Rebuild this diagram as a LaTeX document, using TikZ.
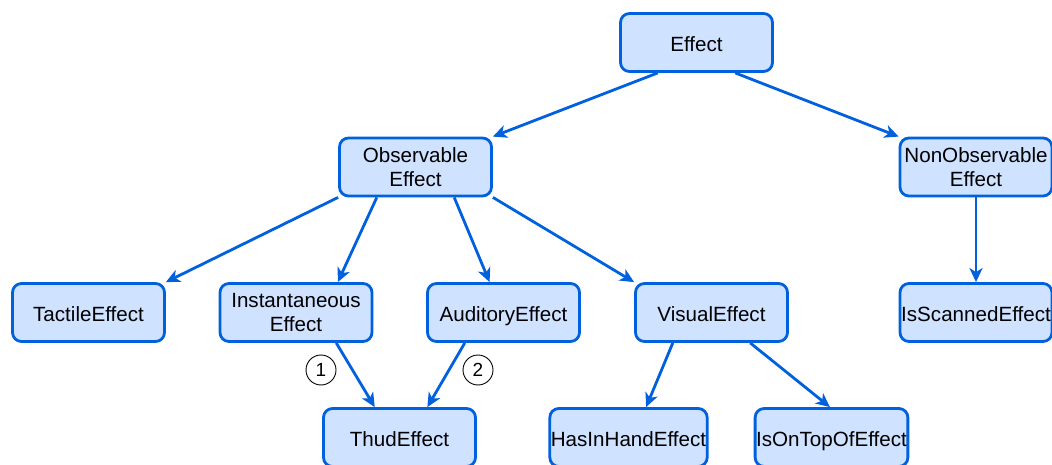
\documentclass[tikz,border=0pt]{standalone}
\usepackage{fontspec}
\setmainfont{Liberation Sans}
\usetikzlibrary{arrows.meta,calc}
\definecolor{boxline}{HTML}{0060DD}
\definecolor{boxfill}{HTML}{CFE2FF}
\tikzset{
  box/.style={draw=boxline, fill=boxfill, line width=2.8pt, rounded corners=9pt,
    minimum width=152pt, minimum height=58pt, inner sep=1pt, align=center,
    font=\fontsize{20.6}{24}\selectfont, text=black,
    execute at begin node={\rule{0pt}{18pt}}},
  single/.style={box, text depth=0pt},
  link/.style={draw=boxline, line width=2.8pt, -{Stealth[length=14pt,width=13pt,inset=4pt]}},
  num/.style={draw=black, fill=white, circle, line width=0.9pt, minimum size=30pt, inner sep=0pt,
    font=\fontsize{19}{21}\selectfont}
}
\begin{document}
\begin{tikzpicture}[x=1pt,y=-1pt]
\useasboundingbox (0,0) rectangle (1052,465);
\node[single] (eff) at (696.5,42.5) {Effect};
\node[box] (obs) at (415.5,167) {Observable\\Effect};
\node[box] (nonobs) at (976,167) {NonObservable\\Effect};
\node[single] (tac) at (88.5,312.5) {TactileEffect};
\node[box] (inst) at (296,312.5) {Instantaneous\\Effect};
\node[single] (aud) at (503.5,312.5) {AuditoryEffect};
\node[single] (vis) at (711.5,312.5) {VisualEffect};
\node[single] (scan) at (976,312.5) {IsScannedEffect};
\node[single] (thud) at (399.5,437.5) {ThudEffect};
\node[single] (has) at (628.5,437.5) {HasInHandEffect};
\node[single] (top) at (831.5,437.5) {IsOnTopOfEffect};
\node[num] (n1) at (321,370) {1};
\node[num] (n2) at (478,370) {2};

\draw[link] ($(eff.south west)!0.25!(eff.south east)$) -- (obs.north east);
\draw[link] ($(eff.south west)!0.75!(eff.south east)$) -- (nonobs.north west);
\draw[link] (obs.south west) -- (tac.north east);
\draw[link] ($(obs.south west)!0.25!(obs.south east)$) -- ($(inst.north west)!0.77!(inst.north east)$);
\draw[link] ($(obs.south west)!0.75!(obs.south east)$) -- ($(aud.north west)!0.41!(aud.north east)$);
\draw[link] (obs.south east) -- (vis.north west);
\draw[link] (nonobs.south) -- (scan.north);
\draw[link] ($(inst.south west)!0.76!(inst.south east)$) -- ($(thud.north west)!0.34!(thud.north east)$);
\draw[link] ($(aud.south west)!0.25!(aud.south east)$) -- ($(thud.north west)!0.68!(thud.north east)$);
\draw[link] ($(vis.south west)!0.25!(vis.south east)$) -- ($(has.north west)!0.61!(has.north east)$);
\draw[link] ($(vis.south west)!0.75!(vis.south east)$) -- ($(top.north west)!0.49!(top.north east)$);
\end{tikzpicture}
\end{document}
